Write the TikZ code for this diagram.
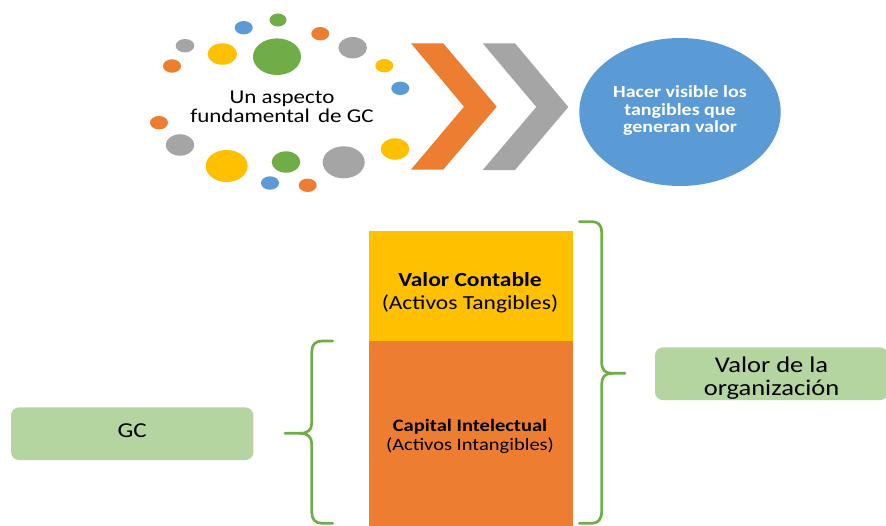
\documentclass[tikz,border=0pt]{standalone}
\usepackage{graphicx}
\usepackage{fontspec}
\setmainfont{Carlito}
\usetikzlibrary{shapes.geometric}
\definecolor{accOrange}{HTML}{ED7D31}
\definecolor{accGray}{HTML}{A5A5A5}
\definecolor{accYellow}{HTML}{FFC000}
\definecolor{accBlue}{HTML}{5B9BD5}
\definecolor{accGreen}{HTML}{70AD47}
\definecolor{softGreen}{HTML}{B5D5A0}
% centred lines, slightly compressed in height
\newcommand{\squashed}[1]{\scalebox{1}[0.85]{\begin{tabular}{@{}c@{}}#1\end{tabular}}}
\tikzset{
  dot/.style={fill=#1},
  chevron/.style={fill=#1},
  label box/.style={fill=softGreen, rounded corners=8pt, inner sep=0pt, align=center, text=black},
  bar/.style={fill=#1, inner sep=0pt, anchor=north west},
  bracket/.style={draw=accGreen, line width=2.7pt, line cap=round, line join=round},
}
\begin{document}
\begin{tikzpicture}[x=1pt,y=-1pt]
\clip (0,0) rectangle (886,525);
\fill[white] (0,0) rectangle (886,525);

% ring of coloured dots
\fill[dot=accGreen]  (278,20)    ellipse [x radius=8.5pt, y radius=6.5pt];
\fill[dot=accBlue]   (243.7,27.7) ellipse [x radius=9pt, y radius=6.7pt];
\fill[dot=accOrange] (320.3,33.7) ellipse [x radius=9pt, y radius=6.7pt];
\fill[dot=accGray]   (185,45.7)  ellipse [x radius=9.3pt, y radius=6.7pt];
\fill[dot=accYellow] (222.3,54)  ellipse [x radius=14.7pt, y radius=10.7pt];
\fill[dot=accGreen]  (277,56.7)  ellipse [x radius=24pt, y radius=18.3pt];
\fill[dot=accGray]   (352.7,47.7) ellipse [x radius=14.3pt, y radius=10.7pt];
\fill[dot=accOrange] (172,66)    ellipse [x radius=9pt, y radius=6.7pt];
\fill[dot=accYellow] (384.3,65.7) ellipse [x radius=9pt, y radius=6.7pt];
\fill[dot=accBlue]   (400.3,88.3) ellipse [x radius=9pt, y radius=6.7pt];
\fill[dot=accOrange] (159,122.7) ellipse [x radius=9pt, y radius=6.7pt];
\fill[dot=accGray]   (180,145)   ellipse [x radius=14.3pt, y radius=10.7pt];
\fill[dot=accYellow] (226.7,166) ellipse [x radius=21pt, y radius=16pt];
\fill[dot=accGreen]  (286,162)   ellipse [x radius=14.3pt, y radius=10.7pt];
\fill[dot=accGray]   (343.7,162.3) ellipse [x radius=21pt, y radius=16pt];
\fill[dot=accYellow] (395,149)   ellipse [x radius=14.3pt, y radius=10.7pt];
\fill[dot=accBlue]   (270,183)   ellipse [x radius=9pt, y radius=6.7pt];
\fill[dot=accOrange] (307.7,185.3) ellipse [x radius=9pt, y radius=6.7pt];

\node (aspect) at (282,109.5) [inner sep=0pt, font=\fontsize{23}{21.8}\selectfont]
  {\squashed{Un aspecto\\fundamental\hspace{3pt} de GC}};

% chevrons
\fill[chevron=accOrange] (411,43.3) -- (443.3,43.3) -- (496.7,106.7) -- (443.3,169.5)
  -- (411,169.5) -- (464,106.7) -- cycle;
\fill[chevron=accGray] (482.7,43.3) -- (515,43.3) -- (568.3,107) -- (515,170)
  -- (482.7,170) -- (536.3,107) -- cycle;

% goal ellipse
\node[ellipse, fill=accBlue, minimum width=201.4pt, minimum height=148pt, inner sep=0pt]
  (goal) at (680,112) {};
\node (goaltext) at (680,111.5) [inner sep=0pt, text=white,
  font=\bfseries\fontsize{20}{20.6}\selectfont]
  {\squashed{Hacer visible los\\tangibles que\\generan valor}};

% stacked value bar
\node[bar=accYellow, minimum width=204pt, minimum height=110pt] (tangible) at (368.3,231) {};
\node[bar=accOrange, minimum width=204pt, minimum height=190pt] (intangible) at (368.3,341) {};
\node (tangtext) at (470,293.5) [inner sep=0pt, font=\fontsize{23.5}{26.7}\selectfont]
  {\squashed{\textbf{Valor Contable}\\(Activos Tangibles)}};
\node (intantext) at (470,437) [inner sep=0pt, font=\fontsize{20.5}{22.7}\selectfont]
  {\squashed{\textbf{Capital Intelectual}\\(Activos Intangibles)}};

% labels
\node[label box, minimum width=242.3pt, minimum height=52.7pt,
  font=\fontsize{25}{25}\selectfont] (gc) at (132.2,433.7) {\squashed{GC}};
\node[label box, minimum width=233pt, minimum height=52.7pt] (org) at (771.5,373.7) {};
\node (orgtext) at (771.5,379.5) [inner sep=0pt, font=\fontsize{26.5}{27.5}\selectfont]
  {\squashed{Valor de la\\organización}};

% brackets
\draw[bracket] (579.3,221.7) -- (592,221.7) .. controls (598,221.7) and (601.7,225) .. (601.7,232)
  -- (601.7,362) .. controls (601.7,370) and (605,373.3) .. (612,373.3) -- (625,373.3);
\draw[bracket] (612,373.3) .. controls (605,373.3) and (601.7,377) .. (601.7,384)
  -- (601.7,512) .. controls (601.7,519) and (598,523.3) .. (592,523.3) -- (579.3,523.3);
\draw[bracket] (332.7,341) -- (322,341) .. controls (315,341) and (311.7,345) .. (311.7,352)
  -- (311.7,423) .. controls (311.7,430) and (308,433.3) .. (300,433.3) -- (285,433.3);
\draw[bracket] (300,433.3) .. controls (308,433.3) and (311.7,437) .. (311.7,444)
  -- (311.7,512) .. controls (311.7,519) and (315,523.3) .. (322,523.3) -- (332.7,523.3);
\end{tikzpicture}
\end{document}
